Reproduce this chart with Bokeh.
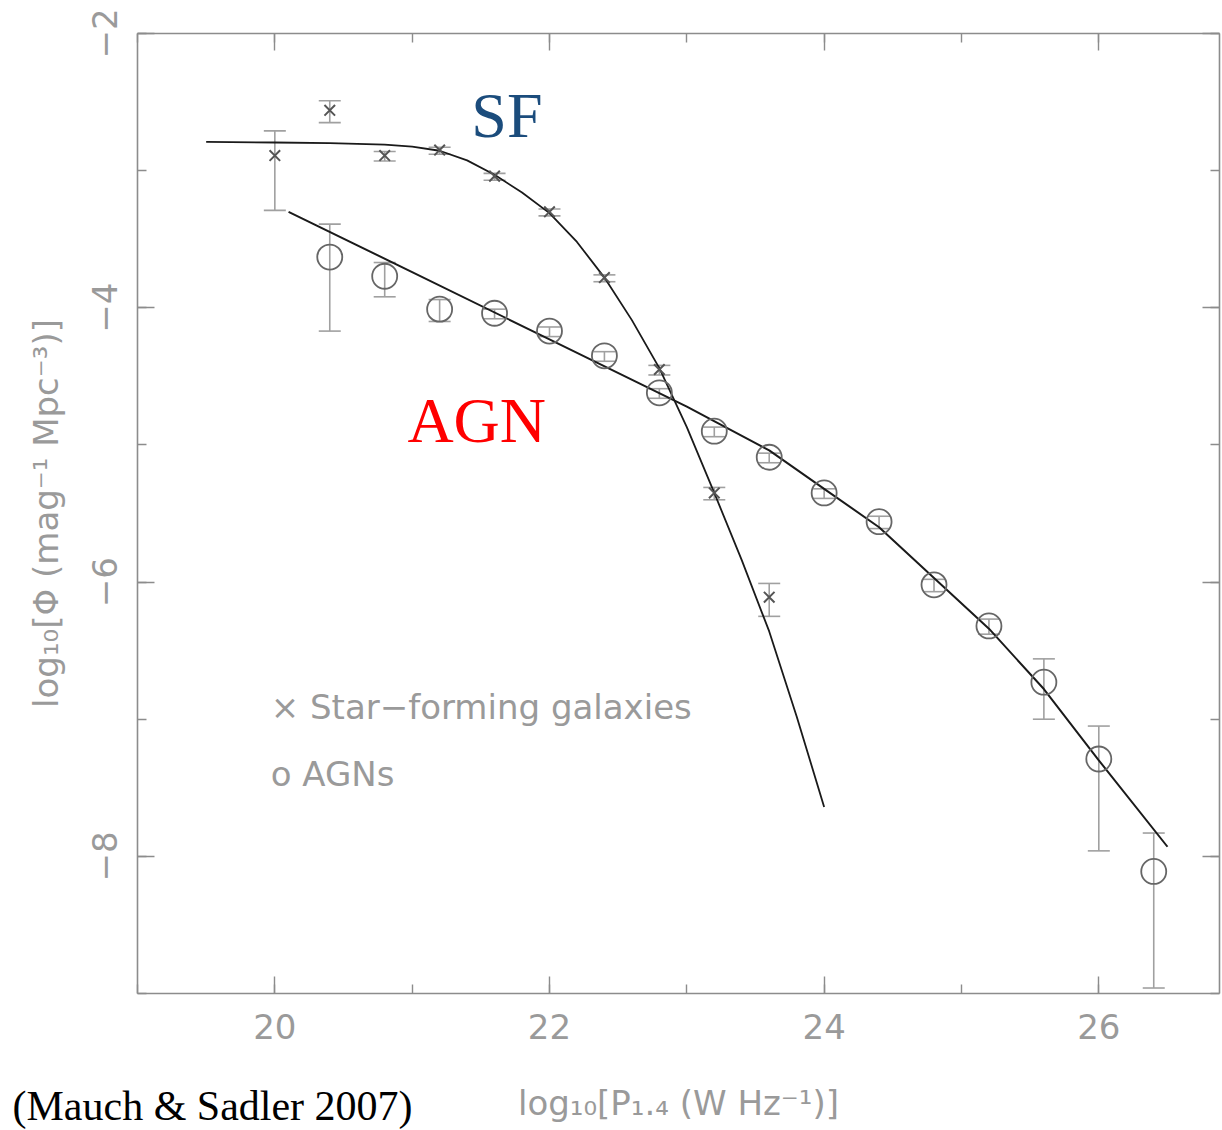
from bokeh.plotting import figure
from bokeh.models import (ColumnDataSource, Whisker, TeeHead, Label, LinearAxis,
                          FixedTicker, Range1d)
from bokeh.embed import file_html
from bokeh.resources import INLINE

# ---- data ----
sf_x = [20.0, 20.4, 20.8, 21.2, 21.6, 22.0, 22.4, 22.8, 23.2, 23.6]
sf_y = [-2.89, -2.56, -2.89, -2.85, -3.04, -3.30, -3.78, -4.45, -5.35, -6.11]
sf_err_up = [0.18, 0.07, 0.03, 0.02, 0.02, 0.02, 0.02, 0.03, 0.04, 0.10]
sf_err_dn = [0.40, 0.09, 0.04, 0.03, 0.03, 0.03, 0.03, 0.04, 0.05, 0.14]

agn_x = [20.4, 20.8, 21.2, 21.6, 22.0, 22.4, 22.8, 23.2, 23.6, 24.0, 24.4, 24.8,
         25.2, 25.6, 26.0, 26.4]
agn_y = [-3.63, -3.77, -4.01, -4.04, -4.17, -4.35, -4.62, -4.90, -5.09, -5.35,
         -5.56, -6.02, -6.32, -6.73, -7.29, -8.11]
agn_err_up = [0.24, 0.10, 0.07, 0.03, 0.03, 0.03, 0.03, 0.03, 0.03, 0.03, 0.04,
              0.04, 0.05, 0.17, 0.24, 0.28]
agn_err_dn = [0.54, 0.15, 0.09, 0.04, 0.04, 0.04, 0.04, 0.04, 0.04, 0.04, 0.05,
              0.05, 0.06, 0.27, 0.67, 0.85]

sf_fit_x = [19.5, 20.0, 20.4, 20.8, 21.0, 21.2, 21.4, 21.6, 21.8, 22.0, 22.2,
            22.4, 22.6, 22.8, 23.0, 23.2, 23.4, 23.6, 23.8, 24.0]
sf_fit_y = [-2.79, -2.795, -2.80, -2.81, -2.825, -2.855, -2.925, -3.03, -3.16,
            -3.31, -3.52, -3.78, -4.09, -4.44, -4.87, -5.35, -5.84, -6.36, -6.98,
            -7.64]

agn_fit_x = [20.1, 21.0, 22.0, 23.0, 23.6, 24.0, 24.4, 24.8, 25.2, 25.6, 26.0, 26.5]
agn_fit_y = [-3.30, -3.74, -4.23, -4.72, -5.04, -5.32, -5.60, -5.97, -6.34, -6.78,
             -7.30, -7.93]

x_major = [20, 22, 24, 26]
x_minor = [19, 20, 21, 22, 23, 24, 25, 26]
y_major = [-8, -6, -4, -2]
y_minor = [-9, -8, -7, -6, -5, -4, -3, -2]
y_tick_labels = {-8: "\u22128", -6: "\u22126", -4: "\u22124", -2: "\u22122"}

# axis box (data limits of the drawn frame)
X_LO, X_HI = 19.0, 26.88
Y_LO, Y_HI = -9.0, -2.0

AX = "#8c8c8c"
TXT = "#9a9a9a"
FONT = "DejaVu Sans"

# the plotting area covers the whole canvas; the axes are drawn at fixed
# locations so that texts in the margins (like the citation) are not clipped
p = figure(width=1222, height=1130, x_range=Range1d(18.0024, 26.9007),
           y_range=Range1d(-9.999, -1.7594), output_backend="svg",
           toolbar_location=None, min_border=0, x_axis_location=None,
           y_axis_location=None)
p.outline_line_color = None
p.grid.visible = False


def style_axis(ax, major, minor, labels=True):
    ax.ticker = FixedTicker(ticks=major, minor_ticks=minor)
    ax.axis_line_color = AX
    ax.axis_line_width = 1.6
    ax.major_tick_line_color = AX
    ax.minor_tick_line_color = AX
    ax.major_tick_line_width = 1.4
    ax.minor_tick_line_width = 1.4
    ax.major_tick_in = 17
    ax.major_tick_out = 0
    ax.minor_tick_in = 9
    ax.minor_tick_out = 0
    ax.axis_label_text_font_style = "normal"
    ax.axis_label_text_color = TXT
    ax.axis_label_text_font = FONT
    ax.axis_label_text_font_size = "34px"
    ax.major_label_text_color = TXT
    ax.major_label_text_font = FONT
    ax.major_label_text_font_size = "34px"
    if not labels:
        ax.major_label_overrides = {v: "" for v in major}
        ax.major_label_standoff = 0


xb = LinearAxis(axis_label="log\u2081\u2080[P\u2081.\u2084 (W Hz\u207b\u00b9)]",
                fixed_location=Y_LO, bounds=(X_LO, X_HI))
style_axis(xb, x_major, x_minor)
xb.major_label_standoff = 21
xb.axis_label_standoff = 40
p.add_layout(xb, "below")

yl = LinearAxis(axis_label="log\u2081\u2080[\u03a6 (mag\u207b\u00b9 Mpc\u207b\u00b3)]",
                fixed_location=X_LO, bounds=(Y_LO, Y_HI))
style_axis(yl, y_major, y_minor)
yl.major_label_orientation = "vertical"
yl.major_label_overrides = y_tick_labels
yl.major_label_standoff = 20
yl.axis_label_standoff = 24
p.add_layout(yl, "left")

xt = LinearAxis(fixed_location=Y_HI, bounds=(X_LO, X_HI))
style_axis(xt, x_major, x_minor, labels=False)
p.add_layout(xt, "above")

yr = LinearAxis(fixed_location=X_HI, bounds=(Y_LO, Y_HI))
style_axis(yr, y_major, y_minor, labels=False)
p.add_layout(yr, "right")

# error bars
sf_src = ColumnDataSource(dict(x=sf_x, y=sf_y,
                               up=[a + b for a, b in zip(sf_y, sf_err_up)],
                               lo=[a - b for a, b in zip(sf_y, sf_err_dn)]))
agn_src = ColumnDataSource(dict(x=agn_x, y=agn_y,
                                up=[a + b for a, b in zip(agn_y, agn_err_up)],
                                lo=[a - b for a, b in zip(agn_y, agn_err_dn)]))
for src in (sf_src, agn_src):
    w = Whisker(source=src, base="x", upper="up", lower="lo",
                line_color="#a0a0a0", line_width=1.6,
                upper_head=TeeHead(size=22, line_color="#a0a0a0", line_width=1.6),
                lower_head=TeeHead(size=22, line_color="#a0a0a0", line_width=1.6))
    p.add_layout(w)

# fits
p.line(sf_fit_x, sf_fit_y, line_color="#1a1a1a", line_width=1.8)
p.line(agn_fit_x, agn_fit_y, line_color="#1a1a1a", line_width=2)

# points
p.scatter("x", "y", source=sf_src, marker="x", size=15, line_color="#555555",
          line_width=2)
p.scatter("x", "y", source=agn_src, marker="circle", size=25,
          fill_color=None, line_color="#666666", line_width=1.8)

# legend texts
p.add_layout(Label(x=19.97, y=-6.91, text="\u00d7 Star\u2212forming galaxies",
                   text_font=FONT, text_font_size="34px", text_color=TXT,
                   text_baseline="middle", text_align="left"))
p.add_layout(Label(x=19.97, y=-7.40, text="o AGNs",
                   text_font=FONT, text_font_size="34px", text_color=TXT,
                   text_baseline="middle", text_align="left"))

# annotations
p.add_layout(Label(x=21.69, y=-2.60, text="SF", text_font="Liberation Serif",
                   text_font_size="64px", text_color="#1b4c7c",
                   text_baseline="middle", text_align="center"))
p.add_layout(Label(x=21.47, y=-4.82, text="AGN", text_font="Liberation Serif",
                   text_font_size="64px", text_color="#ff0000",
                   text_baseline="middle", text_align="center"))
p.add_layout(Label(x=18.09, y=-9.985, text="(Mauch & Sadler 2007)",
                   text_font="Liberation Serif", text_font_size="42px",
                   text_color="#000000", text_baseline="bottom",
                   text_align="left"))

open("out.html", "w").write(file_html(p, INLINE))
